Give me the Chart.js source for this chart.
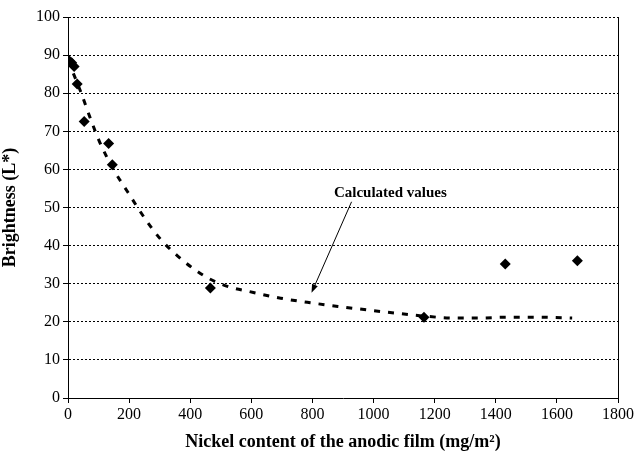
<!DOCTYPE html>
<html>
<head>
<meta charset="utf-8">
<script src="https://cdn.jsdelivr.net/npm/chart.js@4"></script>
<style>
  html, body { margin: 0; padding: 0; background: #fff; }
  #wrap { width: 636px; height: 453px; }
</style>
</head>
<body>
<div id="wrap"><canvas id="chart" width="636" height="453"></canvas></div>
<script>
// measured points (diamonds)
const measuredX = [4, 12, 20, 30, 53, 133, 145, 466, 1165, 1431, 1667];
const measuredY = [88.5, 88, 87, 82.4, 72.6, 66.8, 61.2, 28.9, 21.2, 35.2, 36.0];

// calculated values (dashed curve)
const calcX = [0, 41, 74, 104, 148, 196, 251, 305, 373, 449, 514, 607, 696, 793, 888, 981, 1069, 1165, 1260, 1350, 1436, 1547, 1650];
const calcY = [88.6, 80.5, 73.2, 67.1, 60.1, 54.0, 47.2, 41.5, 36.3, 31.9, 29.5, 27.7, 26.2, 25.0, 24.0, 23.1, 22.3, 21.5, 21.0, 21.0, 21.2, 21.2, 21.0];

// annotation, in data units
const noteText = 'Calculated values';
const noteAt = [1055, 53.9];
const arrowFrom = [928, 51.5];
const arrowTo = [797, 27.6];

const serif = "'Liberation Serif', 'Times New Roman', serif";

const toPoints = (xs, ys) => xs.map((x, i) => ({ x: x, y: ys[i] }));

// right border of the plot + the arrow note
const extras = {
  id: 'extras',
  afterDraw(chart) {
    const { ctx, chartArea, scales } = chart;
    ctx.save();
    ctx.strokeStyle = '#000';
    ctx.lineWidth = 1;
    ctx.beginPath();
    ctx.moveTo(Math.round(chartArea.right) + 0.5, chartArea.top);
    ctx.lineTo(Math.round(chartArea.right) + 0.5, chartArea.bottom);
    ctx.stroke();

    const fx = scales.x.getPixelForValue(arrowFrom[0]);
    const fy = scales.y.getPixelForValue(arrowFrom[1]);
    const tx = scales.x.getPixelForValue(arrowTo[0]);
    const ty = scales.y.getPixelForValue(arrowTo[1]);
    const ang = Math.atan2(ty - fy, tx - fx);
    const head = 9;
    ctx.beginPath();
    ctx.moveTo(fx, fy);
    ctx.lineTo(tx - Math.cos(ang) * head * 0.8, ty - Math.sin(ang) * head * 0.8);
    ctx.stroke();
    ctx.fillStyle = '#000';
    ctx.beginPath();
    ctx.moveTo(tx, ty);
    ctx.lineTo(tx - head * Math.cos(ang - 0.35), ty - head * Math.sin(ang - 0.35));
    ctx.lineTo(tx - head * Math.cos(ang + 0.35), ty - head * Math.sin(ang + 0.35));
    ctx.closePath();
    ctx.fill();

    ctx.font = 'bold 15px ' + serif;
    ctx.textAlign = 'center';
    ctx.textBaseline = 'middle';
    ctx.fillText(noteText, scales.x.getPixelForValue(noteAt[0]), scales.y.getPixelForValue(noteAt[1]));
    ctx.restore();
  }
};

new Chart(document.getElementById('chart').getContext('2d'), {
  type: 'scatter',
  data: {
    datasets: [
      {
        label: 'Measured',
        data: toPoints(measuredX, measuredY),
        pointStyle: 'rectRot',
        pointRadius: 5.5,
        backgroundColor: '#000',
        borderColor: '#000',
        borderWidth: 0,
        order: 1
      },
      {
        label: 'Calculated values',
        data: toPoints(calcX, calcY),
        showLine: true,
        pointRadius: 0,
        borderColor: '#000',
        borderWidth: 3,
        borderDash: [6, 8],
        borderCapStyle: 'butt',
        cubicInterpolationMode: 'monotone',
        order: 2
      }
    ]
  },
  options: {
    responsive: false,
    animation: false,
    layout: { padding: { top: 17, right: 15, left: 0, bottom: 0 } },
    plugins: { legend: { display: false }, tooltip: { enabled: false } },
    scales: {
      x: {
        type: 'linear',
        min: 0,
        max: 1800,
        ticks: {
          stepSize: 200, color: '#000', font: { family: serif, size: 16 }, padding: 2, maxRotation: 0,
          callback: (v) => String(v)
        },
        grid: { drawOnChartArea: false, drawTicks: true, tickLength: 5, tickColor: '#000' },
        border: { color: '#000', width: 1 },
        title: {
          display: true,
          text: 'Nickel content of the anodic film (mg/m²)',
          color: '#000',
          font: { family: serif, size: 18, weight: 'bold' },
          padding: { top: 8, bottom: 0 }
        },
        afterFit(axis) { axis.height = 55; }
      },
      y: {
        min: 0,
        max: 100,
        ticks: { stepSize: 10, color: '#000', font: { family: serif, size: 16 }, padding: 3 },
        grid: {
          color: '#000',
          lineWidth: 1,
          tickBorderDash: [],
          tickLength: 5,
          tickColor: '#000'
        },
        border: { color: '#000', width: 1, dash: [2, 2] },
        title: {
          display: true,
          text: 'Brightness (L*)',
          color: '#000',
          font: { family: serif, size: 18, weight: 'bold' },
          padding: { top: 0, bottom: 4 }
        },
        afterFit(axis) { axis.width = 68; }
      }
    }
  },
  plugins: [extras]
});
</script>
</body>
</html>
